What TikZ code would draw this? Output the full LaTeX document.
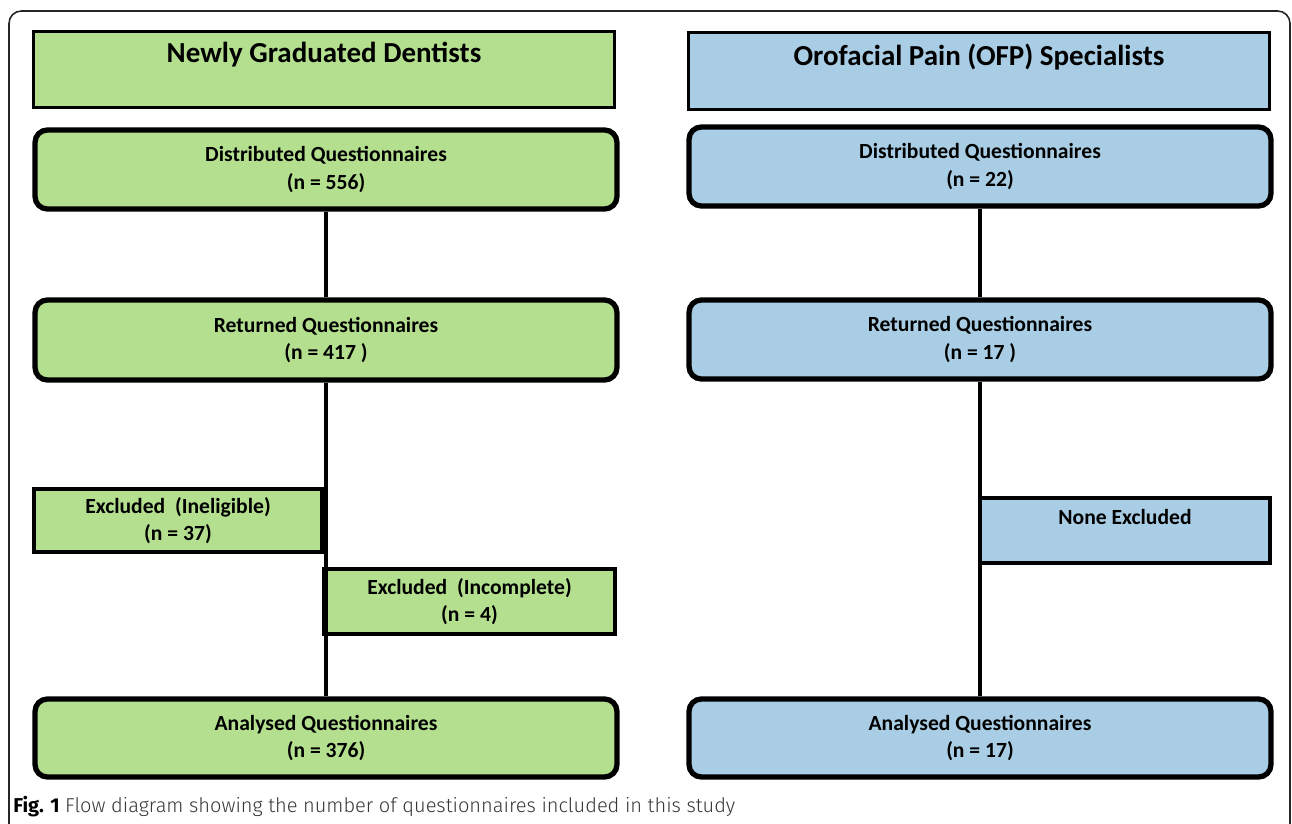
\documentclass[tikz,border=0pt]{standalone}
\usepackage{fontspec}
\setmainfont{Carlito}
\newfontfamily\capfont{Fira Sans Light}[BoldFont = Fira Sans Bold]
\definecolor{grad}{RGB}{179,223,142}
\definecolor{ofp}{RGB}{168,205,228}
\definecolor{captext}{RGB}{55,55,55}
\tikzset {
    hdr/.style = {draw, line width = 2pt, align = center,
        font = \fontsize{16.5}{19}\selectfont\bfseries,
        minimum width = 11.62cm},
    step box/.style = {draw, line width = 3pt, rounded corners = 7pt,
        align = center, font = \fontsize{12.3}{15.5}\selectfont\bfseries,
        minimum width = 11.64cm},
    excl box/.style = {draw, line width = 2.6pt, align = center,
        font = \fontsize{12.3}{15.5}\selectfont\bfseries},
    link/.style = {line width = 1.9pt},
}
\begin{document}
\begin{tikzpicture}[x = 0.02cm, y = -0.02cm]
    \useasboundingbox (0, 0) rectangle (1292, 824);
    \draw [line width = 0.9pt, rounded corners = 7pt, black!85] (9, 11) rectangle (1290, 860);
    % left column
    \node [hdr, fill = grad, minimum height = 1.52cm] (lhdr) at (324, 69.5) {Newly Graduated Dentists\\ \mbox{}};
    \node [step box, fill = grad, minimum height = 1.58cm] (ldist) at (326, 169.5) {Distributed Questionnaires\\(n = 556)};
    \node [step box, fill = grad, minimum height = 1.6cm] (lret) at (326, 340) {Returned Questionnaires\\(n = 417~)};
    \node [excl box, fill = grad, minimum width = 5.76cm, minimum height = 1.26cm] (lexi) at (178, 520.5) {Excluded~ (Ineligible)\\(n = 37)};
    \node [excl box, fill = grad, minimum width = 5.82cm, minimum height = 1.3cm] (lexc) at (469.5, 601.5) {Excluded~ (Incomplete)\\(n = 4)};
    \node [step box, fill = grad, minimum height = 1.56cm] (lana) at (326, 738) {Analysed Questionnaires\\(n = 376)};
    % right column
    \node [hdr, fill = ofp, minimum height = 1.54cm] (rhdr) at (979, 71) {Orofacial Pain (OFP) Specialists\\ \mbox{}};
    \node [step box, fill = ofp, minimum height = 1.58cm] (rdist) at (980, 166.5) {Distributed Questionnaires\\(n = 22)};
    \node [step box, fill = ofp, minimum height = 1.58cm] (rret) at (980, 339.5) {Returned Questionnaires\\(n = 17~)};
    \node [excl box, fill = ofp, minimum width = 5.8cm, minimum height = 1.3cm] (rnone) at (1125, 530.5) {None Excluded\\ \mbox{}};
    \node [step box, fill = ofp, minimum height = 1.56cm] (rana) at (980, 738) {Analysed Questionnaires\\(n = 17)};
    % connectors
    \draw [link] (ldist.south) -- (lret.north);
    \draw [link] (lret.south) -- (lana.north);
    \draw [link] (rdist.south) -- (rret.north);
    \draw [link] (rret.south) -- (rana.north);
    % caption
    \node [anchor = west, inner sep = 0pt, text = captext, font = \capfont\fontsize{11.4}{13}\selectfont] (caption) at (13, 807)
        {\textcolor{black}{\bfseries Fig. 1} Flow diagram showing the number of questionnaires included in this study};
\end{tikzpicture}
\end{document}
